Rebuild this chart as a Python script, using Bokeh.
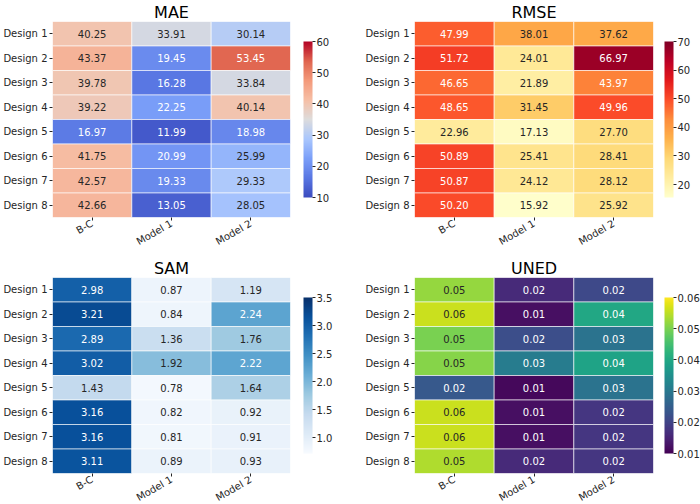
import math
from bokeh.plotting import figure
from bokeh.models import (ColumnDataSource, LinearColorMapper, ColorBar, FixedTicker,
                          PrintfTickFormatter, FactorRange)
from bokeh.layouts import gridplot
from bokeh.embed import file_html
from bokeh.resources import INLINE
from bokeh.transform import transform
from bokeh.core.properties import value
from bokeh.palettes import Viridis256, Blues9, YlOrRd9

# ---------------- data ----------------
designs = ["Design 1", "Design 2", "Design 3", "Design 4",
           "Design 5", "Design 6", "Design 7", "Design 8"]
methods = ["B-C", "Model 1", "Model 2"]

mae_bc = [40.25, 43.37, 39.78, 39.22, 16.97, 41.75, 42.57, 42.66]
mae_m1 = [33.91, 19.45, 16.28, 22.25, 11.99, 20.99, 19.33, 13.05]
mae_m2 = [30.14, 53.45, 33.84, 40.14, 18.98, 25.99, 29.33, 28.05]

rmse_bc = [47.99, 51.72, 46.65, 48.65, 22.96, 50.89, 50.87, 50.20]
rmse_m1 = [38.01, 24.01, 21.89, 31.45, 17.13, 25.41, 24.12, 15.92]
rmse_m2 = [37.62, 66.97, 43.97, 49.96, 27.70, 28.41, 28.12, 25.92]

sam_bc = [2.98, 3.21, 2.89, 3.02, 1.43, 3.16, 3.16, 3.11]
sam_m1 = [0.87, 0.84, 1.36, 1.92, 0.78, 0.82, 0.81, 0.89]
sam_m2 = [1.19, 2.24, 1.76, 2.22, 1.64, 0.92, 0.91, 0.93]

uned_bc = [0.052, 0.056, 0.050, 0.051, 0.024, 0.056, 0.056, 0.054]
uned_m1 = [0.016, 0.012, 0.022, 0.031, 0.011, 0.012, 0.012, 0.016]
uned_m2 = [0.021, 0.040, 0.029, 0.039, 0.029, 0.018, 0.018, 0.018]

mae_ticks = [10, 20, 30, 40, 50, 60]
rmse_ticks = [20, 30, 40, 50, 60, 70]
sam_ticks = [1.0, 1.5, 2.0, 2.5, 3.0, 3.5]
uned_ticks = [0.01, 0.02, 0.03, 0.04, 0.05, 0.06]

# ---------------- palettes ----------------
def hex2rgb(h):
    h = h.lstrip("#")[:6]
    return tuple(int(h[i:i + 2], 16) for i in (0, 2, 4))


def interp(anchors, n=256):
    rgbs = [hex2rgb(a) for a in anchors]
    out = []
    for i in range(n):
        t = i / (n - 1) * (len(rgbs) - 1)
        k = min(int(t), len(rgbs) - 2)
        f = t - k
        c = [round(rgbs[k][j] + (rgbs[k + 1][j] - rgbs[k][j]) * f) for j in range(3)]
        out.append("#%02x%02x%02x" % tuple(c))
    return out


coolwarm = interp(["#3b4cc0", "#5977e3", "#7b9ff9", "#aac7fd", "#dddcdc",
                   "#f6bfa6", "#f49a7b", "#e0654f", "#b40426"])
ylorrd = interp(list(reversed(YlOrRd9)))
blues = interp(list(reversed(Blues9)))
viridis = list(Viridis256)

TXT = "#262626"
FONT = "DejaVu Sans"


def lum(h):
    r, g, b = [c / 255 for c in hex2rgb(h)]
    lin = [c / 12.92 if c <= 0.03928 else ((c + 0.055) / 1.055) ** 2.4 for c in (r, g, b)]
    return 0.2126 * lin[0] + 0.7152 * lin[1] + 0.0722 * lin[2]


def panel(title, cols, low, high, palette, ticks, cell_fmt, tick_fmt,
          left, right, top, bottom, fw, pad):
    xs, ys, vals, labels, tcs = [], [], [], [], []
    for m, col in zip(methods, cols):
        for d, v in zip(designs, col):
            xs.append(m)
            ys.append(d)
            vals.append(v)
            labels.append(cell_fmt % v)
            idx = int(round((v - low) / (high - low) * 255))
            idx = max(0, min(255, idx))
            tcs.append(TXT if lum(palette[idx]) > 0.408 else "white")
    src = ColumnDataSource(dict(x=xs, y=ys, v=vals, label=labels, tc=tcs))
    mapper = LinearColorMapper(palette=palette, low=low, high=high)

    p = figure(x_range=FactorRange(*methods), y_range=FactorRange(*reversed(designs)),
               frame_width=fw, frame_height=196,
               min_border_left=left, min_border_right=right,
               min_border_top=top, min_border_bottom=bottom,
               output_backend="svg", toolbar_location=None, tools="")
    p.rect(x="x", y="y", width=1, height=1, source=src,
           fill_color=transform("v", mapper), line_color="white",
           line_alpha=0.6, line_width=1)
    p.text(x="x", y="y", text="label", source=src, text_color="tc",
           text_align="center", text_baseline="middle",
           text_font=value(FONT), text_font_size="10px")

    p.title.text = title
    p.title.align = "center"
    p.title.text_font = FONT
    p.title.text_font_size = "16px"
    p.title.text_font_style = "normal"
    p.title.text_color = "black"
    p.title.standoff = 0

    for ax in (p.xaxis[0], p.yaxis[0]):
        ax.axis_line_color = None
        ax.axis_label_standoff = 0
        ax.major_tick_line_color = TXT
        ax.major_tick_out = 3
        ax.major_tick_in = 0
        ax.minor_tick_line_color = None
        ax.major_label_text_font = FONT
        ax.major_label_text_font_size = "10px"
        ax.major_label_text_color = TXT
        ax.major_label_standoff = 2
    p.xaxis[0].major_label_orientation = math.pi / 6
    p.grid.visible = False
    p.outline_line_color = None
    p.x_range.range_padding = 0
    p.y_range.range_padding = 0

    cb = ColorBar(color_mapper=mapper, ticker=FixedTicker(ticks=ticks),
                  formatter=PrintfTickFormatter(format=tick_fmt),
                  width=9, height=156, location="center_left",
                  padding=pad, margin=0,
                  major_tick_out=3, major_tick_in=0,
                  major_tick_line_color=TXT,
                  minor_tick_line_color=None, bar_line_color=None,
                  major_label_text_font=FONT, major_label_text_font_size="10px",
                  major_label_text_color=TXT, label_standoff=1,
                  background_fill_color=None, border_line_color=None)
    p.add_layout(cb, "right")
    return p


p1 = panel("MAE", [mae_bc, mae_m1, mae_m2], 10, 60, coolwarm, mae_ticks,
           "%.2f", "%d", 50, 62, 21, 35, 238, 13)
p2 = panel("RMSE", [rmse_bc, rmse_m1, rmse_m2], 15.5, 70, ylorrd, rmse_ticks,
           "%.2f", "%d", 62, 48, 21, 35, 239, 11)
p3 = panel("SAM", [sam_bc, sam_m1, sam_m2], 0.72, 3.5, blues, sam_ticks,
           "%.2f", "%.1f", 50, 62, 23, 31, 238, 13)
p4 = panel("UNED", [uned_bc, uned_m1, uned_m2], 0.01, 0.06, viridis, uned_ticks,
           "%.2f", "%.2f", 62, 48, 23, 31, 239, 11)

grid = gridplot([[p1, p2], [p3, p4]], toolbar_location=None)
open("out.html", "w").write(file_html(grid, INLINE))
